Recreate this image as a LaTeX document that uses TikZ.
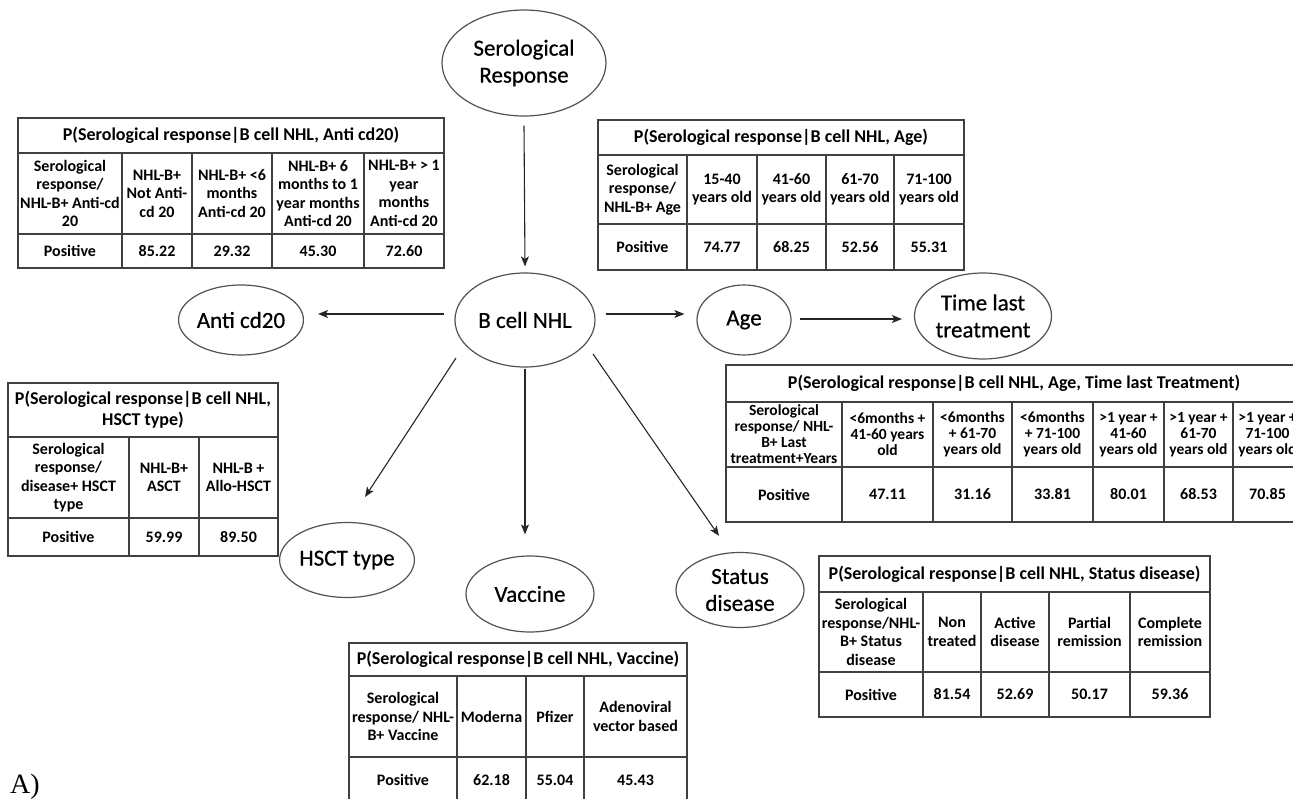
\documentclass[tikz,border=0pt]{standalone}
\usepackage{fontspec}
\setmainfont{Carlito}
\newfontfamily\varfont[FakeBold=0.6]{Carlito}
\newfontfamily\labelserif{Liberation Serif}
\usetikzlibrary{arrows.meta,shapes.geometric}

\tikzset{
  x=1pt, y=-1pt,
  var/.style={ellipse, draw=black!68, line width=1.2pt, inner sep=0pt,
    align=center, font=\varfont\fontsize{23}{27}\selectfont},
  arr/.style={draw=black!85, line width=1.1pt,
    -{Stealth[length=10pt,width=8pt,inset=2.5pt]}},
  grid/.style={draw=black!75, line width=1.3pt},
  ttl/.style={inner sep=0pt, align=center, font=\bfseries\fontsize{18}{21}\selectfont},
  cell/.style={inner sep=0pt, align=center, font=\bfseries\fontsize{16}{18.5}\selectfont},
  smallcell/.style={inner sep=0pt, align=center, font=\bfseries\fontsize{15.5}{16}\selectfont},
}

\begin{document}
\begin{tikzpicture}
\useasboundingbox (0,0) rectangle (1293,799);
\fill[white] (0,0) rectangle (1293,799);
\clip (0,0) rectangle (1293,799);

% ---------- variables ----------
\node[var, minimum width=164pt, minimum height=106pt] (sr)   at (524,63)  {Serological\\Response};
\node[var, minimum width=140pt, minimum height=94pt]  (bnhl) at (525,320) {B cell NHL};
\node[var, minimum width=104pt, minimum height=70pt]  (anti) at (241,320) {Anti cd20};
\node[var, minimum width=94pt,  minimum height=70pt]  (age)  at (744,320) {Age};
\node[var, minimum width=137pt, minimum height=86pt]  (tlt)  at (983,316) {Time last\\treatment};
\node[var, minimum width=128pt, minimum height=75pt]  (hsct) at (347,560) {HSCT type};
\node[var, minimum width=128pt, minimum height=76pt]  (vac)  at (530,594) {Vaccine};
\node[var, minimum width=128pt, minimum height=75pt]  (stat) at (740,590) {Status\\disease};

% ---------- dependencies ----------
\draw[arr] ([yshift=-9pt]sr.south) -- ([yshift=6pt]bnhl.north);
\draw[arr] ([shift={(-10pt,6pt)}]bnhl.west) -- ([shift={(14pt,6pt)}]anti.east);
\draw[arr] ([shift={(10pt,6pt)}]bnhl.east) -- ([shift={(-12pt,6pt)}]age.west);
\draw[arr] ([shift={(8pt,1pt)}]age.east) -- ([shift={(-12pt,-3pt)}]tlt.west);
\coordinate (tipH) at ([shift={(18pt,63pt)}]hsct.center);
\coordinate (tipV) at ([shift={(-5pt,21pt)}]vac.north);
\coordinate (tipS) at ([shift={(-21pt,16pt)}]stat.north);
\draw[arr] ([shift={(-69pt,-38pt)}]bnhl.center) -- (tipH);
\draw[arr] ([yshift=-1pt]bnhl.south) -- (tipV);
\draw[arr] ([shift={(68pt,-34pt)}]bnhl.center) -- (tipS);

% ---------- table: Anti cd20 ----------
\draw[grid] (18,118) rectangle (444,268) (18,153) -- (444,153) (18,234) -- (444,234);
\foreach \x in {122,192,272,364} \draw[grid] (\x,153) -- (\x,268);
\node[ttl] (a-t) at (231,135.5) {P(Serological response|B cell NHL, Anti cd20)};
\foreach \l/\r/\s [count=\i] in {
  18/122/{Serological\\response/\\NHL-B+ Anti-cd\\20},
  122/192/{NHL-B+\\Not Anti-\\cd 20},
  192/272/{NHL-B+ <6\\months\\Anti-cd 20},
  272/364/{NHL-B+ 6\\months to 1\\year months\\Anti-cd 20},
  364/444/{NHL-B+ > 1\\year\\months\\Anti-cd 20}}
  \node[cell] (a-h\i) at ({(\l+\r)/2},193.5) {\s};
\foreach \l/\r/\s [count=\i] in {18/122/Positive,122/192/85.22,192/272/29.32,272/364/45.30,364/444/72.60}
  \node[cell] (a-v\i) at ({(\l+\r)/2},251) {\s};

% ---------- table: Age ----------
\draw[grid] (598,120) rectangle (964,270) (598,155) -- (964,155) (598,224) -- (964,224);
\foreach \x in {687,757,826,894} \draw[grid] (\x,155) -- (\x,270);
\node[ttl] (b-t) at (781,137.5) {P(Serological response|B cell NHL, Age)};
\foreach \l/\r/\s [count=\i] in {
  598/687/{Serological\\response/\\NHL-B+ Age},
  687/757/{15-40\\years old},
  757/826/{41-60\\years old},
  826/894/{61-70\\years old},
  894/964/{71-100\\years old}}
  \node[cell] (b-h\i) at ({(\l+\r)/2},189.5) {\s};
\foreach \l/\r/\s [count=\i] in {598/687/Positive,687/757/74.77,757/826/68.25,826/894/52.56,894/964/55.31}
  \node[cell] (b-v\i) at ({(\l+\r)/2},247) {\s};

% ---------- table: HSCT type ----------
\draw[grid] (8,383) rectangle (278,556) (8,437) -- (278,437) (8,518) -- (278,518);
\foreach \x in {129,199} \draw[grid] (\x,437) -- (\x,556);
\node[ttl] (c-t) at (143,410) {P(Serological response|B cell NHL,\\HSCT type)};
\foreach \l/\r/\s [count=\i] in {
  8/129/{Serological\\response/\\disease+ HSCT\\type},
  129/199/{NHL-B+\\ASCT},
  199/278/{NHL-B +\\Allo-HSCT}}
  \node[cell] (c-h\i) at ({(\l+\r)/2},477.5) {\s};
\foreach \l/\r/\s [count=\i] in {8/129/Positive,129/199/59.99,199/278/89.50}
  \node[cell] (c-v\i) at ({(\l+\r)/2},537) {\s};

% ---------- table: Age, Time last treatment ----------
\draw[grid] (726,365) rectangle (1302,522) (726,402) -- (1302,402) (726,467) -- (1302,467);
\foreach \x in {842,933,1012,1093,1164,1233} \draw[grid] (\x,402) -- (\x,522);
\node[ttl] (d-t) at (1014,383.5) {P(Serological response|B cell NHL, Age, Time last Treatment)};
\foreach \l/\r/\s [count=\i] in {
  726/842/{Serological\\response/ NHL-\\B+ Last\\treatment+Years},
  842/933/{<6months +\\41-60 years\\old},
  933/1012/{<6months\\+ 61-70\\years old},
  1012/1093/{<6months\\+ 71-100\\years old},
  1093/1164/{>1 year +\\41-60\\years old},
  1164/1233/{>1 year +\\61-70\\years old},
  1233/1302/{>1 year +\\71-100\\years old}}
  \node[smallcell] (d-h\i) at ({(\l+\r)/2},434.5) {\s};
\foreach \l/\r/\s [count=\i] in {726/842/Positive,842/933/47.11,933/1012/31.16,1012/1093/33.81,1093/1164/80.01,1164/1233/68.53,1233/1302/70.85}
  \node[cell] (d-v\i) at ({(\l+\r)/2},494.5) {\s};

% ---------- table: Status disease ----------
\draw[grid] (819,556) rectangle (1210,717) (819,592) -- (1210,592) (819,672) -- (1210,672);
\foreach \x in {923,981,1049,1130} \draw[grid] (\x,592) -- (\x,717);
\node[ttl] (e-t) at (1014.5,574) {P(Serological response|B cell NHL, Status disease)};
\foreach \l/\r/\s [count=\i] in {
  819/923/{Serological\\response/NHL-\\B+ Status\\disease},
  923/981/{Non\\treated},
  981/1049/{Active\\disease},
  1049/1130/{Partial\\remission},
  1130/1210/{Complete\\remission}}
  \node[cell] (e-h\i) at ({(\l+\r)/2},632) {\s};
\foreach \l/\r/\s [count=\i] in {819/923/Positive,923/981/81.54,981/1049/52.69,1049/1130/50.17,1130/1210/59.36}
  \node[cell] (e-v\i) at ({(\l+\r)/2},694.5) {\s};

% ---------- table: Vaccine ----------
\draw[grid] (349,643) rectangle (687,805) (349,676) -- (687,676) (349,757) -- (687,757);
\foreach \x in {457,526,584} \draw[grid] (\x,676) -- (\x,805);
\node[ttl] (f-t) at (518,659.5) {P(Serological response|B cell NHL, Vaccine)};
\foreach \l/\r/\s [count=\i] in {
  349/457/{Serological\\response/ NHL-\\B+ Vaccine},
  457/526/{Moderna},
  526/584/{Pfizer},
  584/687/{Adenoviral\\vector based}}
  \node[cell] (f-h\i) at ({(\l+\r)/2},716.5) {\s};
\foreach \l/\r/\s [count=\i] in {349/457/Positive,457/526/62.18,526/584/55.04,584/687/45.43}
  \node[cell] (f-v\i) at ({(\l+\r)/2},780) {\s};

% ---------- panel letter ----------
\node[anchor=base west, inner sep=0pt, font=\labelserif\fontsize{28}{30}\selectfont] (panel) at (10,793) {A)};
\end{tikzpicture}
\end{document}
